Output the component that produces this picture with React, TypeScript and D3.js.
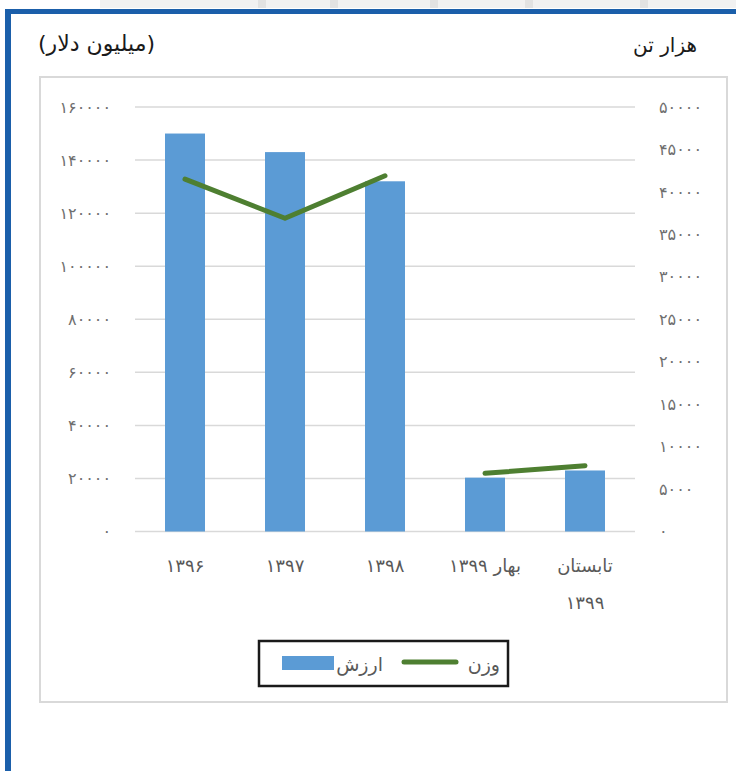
import React from "react";
import * as d3 from "d3";

// categories on the x axis (last one wraps to two lines)
const categories = ["۱۳۹۶", "۱۳۹۷", "۱۳۹۸", "بهار ۱۳۹۹", "تابستان ۱۳۹۹"];
const categoryLines = [["۱۳۹۶"], ["۱۳۹۷"], ["۱۳۹۸"], ["بهار ۱۳۹۹"], ["تابستان", "۱۳۹۹"]];

// ارزش (میلیون دلار) -> bars, left axis
const valueSeries = [150000, 143000, 132000, 20300, 23000];
// وزن (هزار تن) -> line, right axis; the line is broken between 1398 and 1399
const weightSeries = [41500, 36900, 41900, 6850, 7750];
const weightSegment = [0, 0, 0, 1, 1];

const leftTicks = [0, 20000, 40000, 60000, 80000, 100000, 120000, 140000, 160000];
const rightTicks = [0, 5000, 10000, 15000, 20000, 25000, 30000, 35000, 40000, 45000, 50000];

const seriesNames = ["ارزش", "وزن"];
const leftTitle = "(میلیون دلار)";
const rightTitle = "هزار تن";

const faDigits = "۰۱۲۳۴۵۶۷۸۹";
const toFa = (n: number) => String(n).replace(/[0-9]/g, (d) => faDigits[+d]);

export default function App() {
	const width = 736;
	const height = 771;
	const plotLeft = 135;
	const plotRight = 635;
	const plotTop = 107;
	const plotBottom = 531.5;

	const barColor = "#5b9bd5";
	const lineColor = "#4e7f31";
	const font = "'DejaVu Sans', sans-serif";

	const x = d3
		.scaleBand<string>()
		.domain(categories)
		.range([plotLeft, plotRight])
		.paddingInner(0.6)
		.paddingOuter(0.3);
	const cx = (c: string) => (x(c) || 0) + x.bandwidth() / 2;

	const yLeft = d3.scaleLinear().domain([0, 160000]).range([plotBottom, plotTop]);
	const yRight = d3.scaleLinear().domain([0, 50000]).range([plotBottom, plotTop]);

	// split the weight line into its segments
	const segments = d3.groups(
		weightSeries.map((v, i) => ({ v, cat: categories[i], seg: weightSegment[i] })),
		(d) => d.seg
	);
	const segLine = d3
		.line<{ v: number; cat: string }>()
		.x((d) => cx(d.cat))
		.y((d) => yRight(d.v));

	return (
		<svg
			width={width}
			height={height}
			style={{ position: "absolute", left: 0, top: 0, display: "block", background: "#fff" }}
			fontFamily={font}
		>
			{/* faint strip above the frame */}
			<rect x={100} y={0} width={636} height={8} fill="#f1f1f1" />
			{[258, 330, 430, 525, 640].map((px) => (
				<rect key={px} x={px} y={0} width={8} height={8} fill="#e2e2e2" />
			))}

			{/* blue frame */}
			<rect x={5} y={9} width={731} height={5} fill="#1b5faa" />
			<rect x={5} y={9} width={6} height={762} fill="#1b5faa" />

			{/* axis titles */}
			<text x={38} y={43} dy="0.35em" fontSize={22} fill="#1a1a1a">
				{leftTitle}
			</text>
			<text x={697} y={45} dy="0.35em" fontSize={20} fill="#1a1a1a" textAnchor="end">
				{rightTitle}
			</text>

			{/* chart area border */}
			<rect x={40} y={77} width={687} height={625} fill="#fff" stroke="#d9d9d9" strokeWidth={2} />

			{/* gridlines + left ticks */}
			<g>
				{leftTicks.map((t) => (
					<g key={t}>
						<line x1={plotLeft} x2={plotRight} y1={yLeft(t)} y2={yLeft(t)} stroke="#d9d9d9" strokeWidth={1.5} />
						<text x={111} y={yLeft(t)} dy="0.35em" textAnchor="end" fontSize={16} fill="#6f6f6f">
							{toFa(t)}
						</text>
					</g>
				))}
			</g>

			{/* right ticks */}
			<g>
				{rightTicks.map((t) => (
					<text key={t} x={659} y={yRight(t)} dy="0.35em" textAnchor="start" fontSize={16} fill="#6f6f6f">
						{toFa(t)}
					</text>
				))}
			</g>

			{/* bars */}
			<g fill={barColor}>
				{valueSeries.map((v, i) => (
					<rect
						key={i}
						x={x(categories[i])}
						y={yLeft(v)}
						width={x.bandwidth()}
						height={plotBottom - yLeft(v)}
					/>
				))}
			</g>

			{/* weight line */}
			{segments.map(([seg, pts]) => (
				<path
					key={seg}
					d={segLine(pts) || undefined}
					fill="none"
					stroke={lineColor}
					strokeWidth={5}
					strokeLinecap="round"
					strokeLinejoin="round"
				/>
			))}

			{/* x labels */}
			<g>
				{categoryLines.map((lines, i) => (
					<text key={i} y={566} textAnchor="middle" fontSize={18} fill="#595959">
						{lines.map((l, j) => (
							<tspan key={j} x={cx(categories[i])} dy={j === 0 ? "0.35em" : 37}>
								{l}
							</tspan>
						))}
					</text>
				))}
			</g>

			{/* legend */}
			<g>
				<rect x={259} y={641} width={249} height={45} fill="#fff" stroke="#1a1a1a" strokeWidth={2.5} />
				<rect x={282} y={656} width={52} height={14} fill={barColor} />
				<text x={383} y={664} dy="0.35em" textAnchor="end" fontSize={19} fill="#595959">
					{seriesNames[0]}
				</text>
				<line x1={404} x2={456} y1={662} y2={662} stroke={lineColor} strokeWidth={5} strokeLinecap="round" />
				<text x={500} y={664} dy="0.35em" textAnchor="end" fontSize={19} fill="#595959">
					{seriesNames[1]}
				</text>
			</g>
		</svg>
	);
}
